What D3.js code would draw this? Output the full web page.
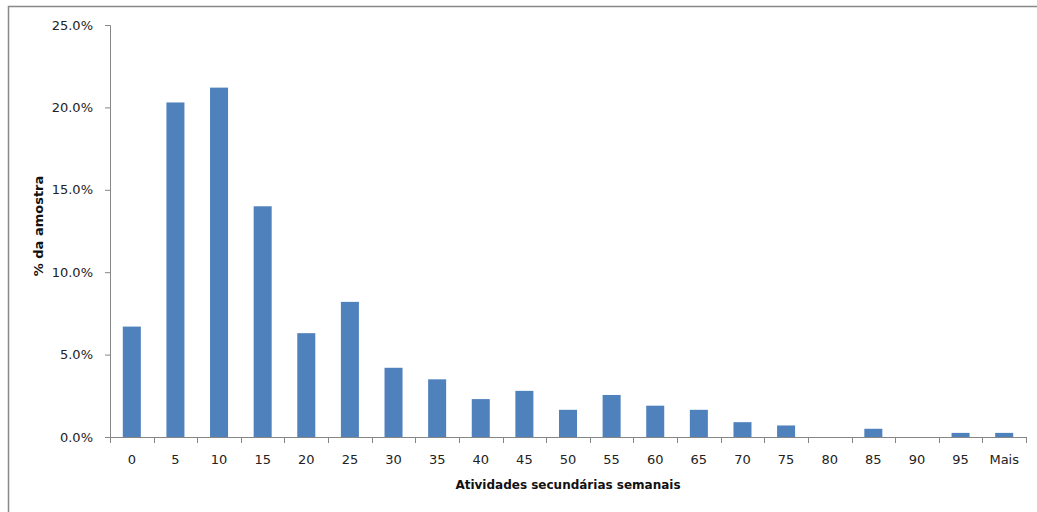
<!DOCTYPE html>
<html>
<head>
<meta charset="utf-8">
<script src="https://cdn.jsdelivr.net/npm/d3@7"></script>
<style>
  html, body { margin: 0; padding: 0; background: #fff; }
  svg { display: block; }
  .tick text { font-family: "DejaVu Sans", sans-serif; font-size: 13px; fill: #222; }
</style>
</head>
<body>
<svg id="chart" width="1037" height="512"></svg>
<script>
const categories = ["0","5","10","15","20","25","30","35","40","45","50","55","60","65","70","75","80","85","90","95","Mais"];
const values = [6.7, 20.3, 21.2, 14.0, 6.3, 8.2, 4.2, 3.5, 2.3, 2.8, 1.65, 2.55, 1.9, 1.65, 0.9, 0.7, 0, 0.5, 0, 0.25, 0.25];
const yTicks = [0, 5, 10, 15, 20, 25];
const xTitle = "Atividades secundárias semanais";
const yTitle = "% da amostra";

(function () {
const svg = d3.select("#chart");

// outer chart frame
svg.append("rect")
  .attr("x", 8.5).attr("y", 6.5)
  .attr("width", 1100).attr("height", 600)
  .attr("fill", "none").attr("stroke", "#888").attr("stroke-width", 1.5);

const mLeft = 110, mRight = 1026, mTop = 25, mBottom = 437;

const pad = 0.587;
const x = d3.scaleBand().domain(categories).range([mLeft, mRight])
  .paddingInner(pad).paddingOuter(pad / 2);
const y = d3.scaleLinear().domain([0, 25]).range([mBottom, mTop]);

const axisColor = "#868686";

// bars
svg.append("g").selectAll("rect").data(values).join("rect")
  .attr("x", (d, i) => x(categories[i]))
  .attr("width", x.bandwidth())
  .attr("y", d => y(d))
  .attr("height", d => y(0) - y(d))
  .attr("fill", "#4F81BD");

// y axis
const yAxis = svg.append("g").attr("transform", `translate(${mLeft},0)`)
  .call(d3.axisLeft(y).tickValues(yTicks).tickSize(5).tickPadding(12)
    .tickFormat(d => d.toFixed(1) + "%"));
yAxis.select(".domain").attr("stroke", axisColor);
yAxis.selectAll(".tick line").attr("stroke", axisColor);

// x axis (labels)
const xAxis = svg.append("g").attr("transform", `translate(0,${mBottom})`)
  .call(d3.axisBottom(x).tickSize(0).tickPadding(18));
xAxis.select(".domain").remove();
xAxis.append("line").attr("x1", mLeft).attr("x2", mRight).attr("y1", 0.5).attr("y2", 0.5)
  .attr("stroke", axisColor);
// boundary tick marks
const step = x.step();
xAxis.append("g").selectAll("line").data(d3.range(categories.length + 1)).join("line")
  .attr("x1", i => Math.round(mLeft + i * step) + 0.5)
  .attr("x2", i => Math.round(mLeft + i * step) + 0.5)
  .attr("y1", 0).attr("y2", 6)
  .attr("stroke", axisColor);

// titles
svg.append("text")
  .attr("x", (mLeft + mRight) / 2).attr("y", 489)
  .attr("text-anchor", "middle")
  .attr("font-family", "DejaVu Sans, sans-serif").attr("font-weight", "bold")
  .attr("font-size", 12).attr("fill", "#111")
  .text(xTitle);

svg.append("text")
  .attr("transform", `translate(43,226) rotate(-90)`)
  .attr("text-anchor", "middle")
  .attr("font-family", "DejaVu Sans, sans-serif").attr("font-weight", "bold")
  .attr("font-size", 13).attr("fill", "#111")
  .text(yTitle);
})();
</script>
</body>
</html>
